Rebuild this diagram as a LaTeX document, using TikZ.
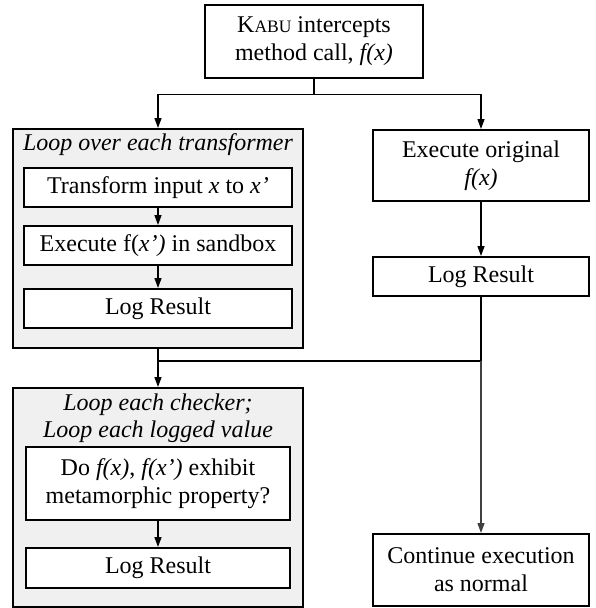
\documentclass[tikz,border=0pt]{standalone}
\usepackage{fontspec}
\setmainfont{Liberation Serif}
\usetikzlibrary{arrows.meta,positioning}
\definecolor{loopfill}{RGB}{240,240,240}
\newcommand{\kabusc}[1]{{\fontsize{17.5}{20}\selectfont #1}}
\tikzset{
  box/.style={draw=black, line width=2pt, fill=white, align=center, inner sep=0pt,
    font=\fontsize{24}{28}\selectfont},
  loopbox/.style={draw=black, line width=2pt, fill=loopfill, inner sep=0pt},
  looptitle/.style={inner sep=0pt, align=center, font=\fontsize{24}{27}\selectfont\itshape},
  conn/.style={line width=1.3pt, draw=black},
  arr/.style={conn, -{Triangle[length=10pt,width=7pt]}},
}
\begin{document}
\begin{tikzpicture}[x=1pt,y=-1pt]
\useasboundingbox (0,0) rectangle (595,608);
% top box
\node[box, minimum width=218pt, minimum height=73pt] (top) at (314,41.5)
  {K\kabusc{ABU} intercepts\\method call, \textit{f(x)}};
% left loop box (transformers)
\node[loopbox, minimum width=290pt, minimum height=219pt] (A) at (158,238.5) {};
\node[looptitle] (Atitle) at (158,145) {Loop over each transformer};
\node[box, minimum width=268pt, minimum height=39pt] (a1) at (158,187.5)
  {Transform input \textit{x} to \textit{x’}};
\node[box, minimum width=268pt, minimum height=39pt] (a2) at (158,245.5)
  {Execute f(\textit{x’)} in sandbox};
\node[box, minimum width=268pt, minimum height=39pt] (a3) at (158,308.5)
  {Log Result};
% right column
\node[box, minimum width=216pt, minimum height=71pt] (r1) at (481,165.5)
  {Execute original\\\textit{f(x)}};
\node[box, minimum width=216pt, minimum height=39pt] (r2) at (481,276.5)
  {Log Result};
\node[box, minimum width=216pt, minimum height=72pt] (r3) at (481,570)
  {Continue execution\\as normal};
% lower left loop box (checkers)
\node[loopbox, minimum width=290pt, minimum height=219pt] (B) at (158,497.5) {};
\node[looptitle] (Btitle) at (158,418.5) {Loop each checker;\\Loop each logged value};
\node[box, minimum width=264pt, minimum height=73pt] (b1) at (158,483.5)
  {Do \textit{f(x)}, \textit{f(x’)} exhibit\\metamorphic property?};
\node[box, minimum width=264pt, minimum height=40pt] (b2) at (158,568)
  {Log Result};
% junctions
\coordinate (split) at (314,94.5);
\coordinate (merge) at (481,361);
\coordinate (mergeL) at (158,361);
% connectors
\draw[conn] (top.south) -- (split);
\draw[arr] (split) -| (A.north);
\draw[arr] (split) -| (r1.north);
\draw[arr] (a1) -- (a2);
\draw[arr] (a2) -- (a3);
\draw[arr] (A.south) -- (B.north);
\draw[arr] (b1) -- (b2);
\draw[arr] (r1) -- (r2);
\draw[conn] (r2.south) -- (merge) -- (mergeL);
\draw[arr, draw=black!75, fill=black] (merge) -- (r3.north);
\end{tikzpicture}
\end{document}
